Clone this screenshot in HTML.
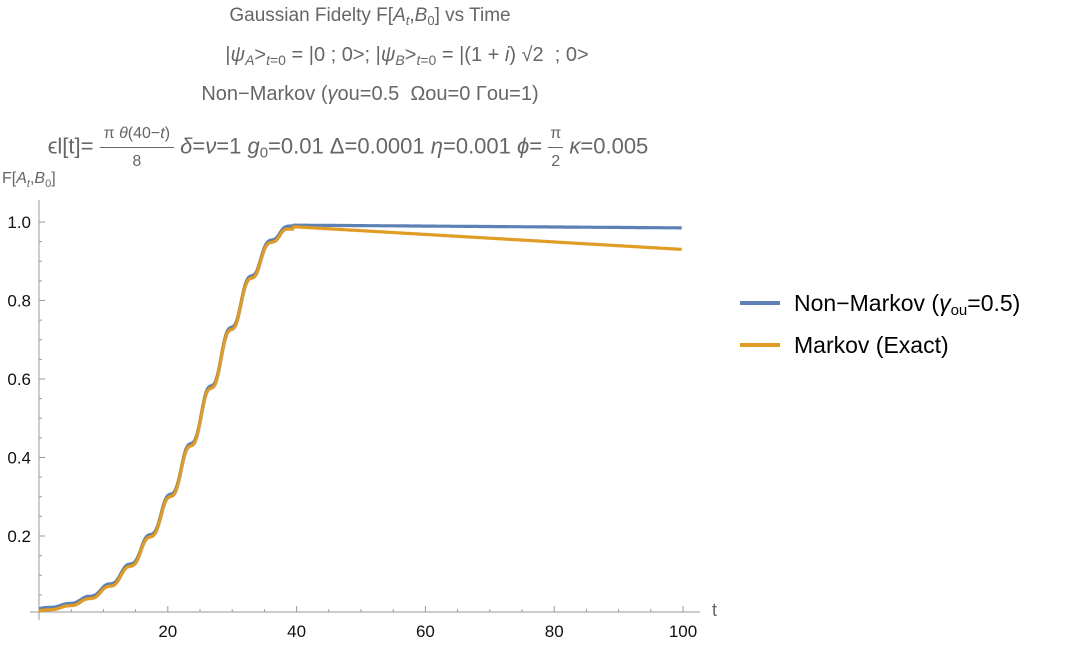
<!DOCTYPE html>
<html><head><meta charset="utf-8"><style>
body{margin:0;background:#fff;width:1066px;height:648px;overflow:hidden;font-family:"Liberation Sans",sans-serif}
.t{position:absolute;left:0;width:740px;text-align:center;color:#666;font-size:19px;white-space:nowrap}
i{font-style:italic}
sub{vertical-align:-4px;line-height:0}
</style></head><body>
<div class="t" style="top:5px">Gaussian Fidelty F[<i>A</i><sub style="font-size:13px"><i>t</i></sub>,<i>B</i><sub style="font-size:13px">0</sub>] vs Time</div>
<div class="t" style="top:44px;font-size:20px;left:37px">|<i>ψ<sub style="font-size:14px">A</sub></i>&gt;<sub style="font-size:14px"><i>t</i>=0</sub> = |0 ; 0&gt;; |<i>ψ<sub style="font-size:14px">B</sub></i>&gt;<sub style="font-size:14px"><i>t</i>=0</sub> = |(1 + <i>i</i>) √2 &nbsp;; 0&gt;</div>
<div class="t" style="top:83px;font-size:20px">Non−Markov (<i>γ</i>ou=0.5 &nbsp;Ωou=0 Γou=1)</div>
<div class="t" style="top:120px;font-size:22px;left:-22px">ϵl[t]= <span style="display:inline-block;vertical-align:middle;text-align:center;font-size:16px;line-height:27px"><span style="border-bottom:1px solid #666;display:block;padding:0 4px">π <i>θ</i>(40−<i>t</i>)</span>8</span> <i>δ</i>=<i>ν</i>=1 <i>g</i><sub style="font-size:15px">0</sub>=0.01 Δ=0.0001 <i>η</i>=0.001 <i>ϕ</i>= <span style="display:inline-block;vertical-align:middle;text-align:center;font-size:16px;line-height:27px"><span style="border-bottom:1px solid #666;display:block;padding:0 2px">π</span>2</span> <i>κ</i>=0.005</div>
<div style="position:absolute;left:2px;top:170px;color:#666;font-size:16px">F[<i>A</i><sub style="font-size:11px"><i>t</i></sub>,<i>B</i><sub style="font-size:11px">0</sub>]</div>
<svg id="s" width="1066" height="648" style="position:absolute;left:0;top:0" font-family="Liberation Sans,sans-serif" font-size="17"></svg>
<div style="position:absolute;left:740px;top:285px;font-size:23px;color:#000">
<div style="display:flex;align-items:center;height:36px"><span style="display:inline-block;width:40px;height:4px;background:#5e81b5;margin-right:14px"></span><span>Non−Markov (<i>γ</i><span style="font-size:15px;position:relative;top:4px">ou</span>=0.5)</span></div>
<div style="display:flex;align-items:center;height:36px;margin-top:6px"><span style="display:inline-block;width:40px;height:4px;background:#e19c24;margin-right:14px"></span>Markov (Exact)</div>
</div>
<script>
var s=document.getElementById('s'),h='';
var X=function(t){return 39+t*6.44},Y=function(v){return 614.5-v*392.5};
h+='<line x1="30" y1="612" x2="700" y2="612" stroke="#999" stroke-width="1"/>';
h+='<line x1="39" y1="200" x2="39" y2="620" stroke="#999" stroke-width="1"/>';
for(var t=5;t<=100;t+=5){var L=t%20==0?6:3;h+='<line x1="'+X(t)+'" y1="612" x2="'+X(t)+'" y2="'+(612-L)+'" stroke="#999"/>';if(t%20==0)h+='<text x="'+X(t)+'" y="637" text-anchor="middle" fill="#111">'+t+'</text>';}
for(var v=0.05;v<=1.04;v+=0.05){var y=Y(v),big=Math.abs(v*10-Math.round(v*10))<0.01&&Math.round(v*10)%2==0;h+='<line x1="39" y1="'+y+'" x2="'+(39+(big?6:3))+'" y2="'+y+'" stroke="#999"/>';if(big)h+='<text x="31" y="'+(y+6)+'" text-anchor="end" fill="#111">'+v.toFixed(1)+'</text>';}
h+='<text x="712" y="616" fill="#666" font-size="18">t</text>';
var c=0.0033;
function f(t,m){if(t>=39.5){return m?0.988-0.058*(t-39.5)/60.5:0.992-0.007*(t-39.5)/60.5;}
var tp=t-0.9*Math.sin(2*(t-1.6))/2;var v=0.015+0.975*Math.exp(-c*Math.pow(Math.max(0,39.5-tp),2))-0.975*Math.exp(-c*39.5*39.5)*(1-t/39.5);return Math.min(v,m?0.988:0.992);}
[[0,'#5e81b5'],[1,'#e19c24']].forEach(function(a){var d='';for(var t=0;t<=100;t+=0.2){d+=(t?'L':'M')+X(t).toFixed(1)+','+Y(f(t,a[0])-(a[0]&&t<39.5?0.006:0)).toFixed(1);}h+='<path d="'+d+'" fill="none" stroke="'+a[1]+'" stroke-width="3.2"/>';});
s.innerHTML=h;
</script>
</body></html>
